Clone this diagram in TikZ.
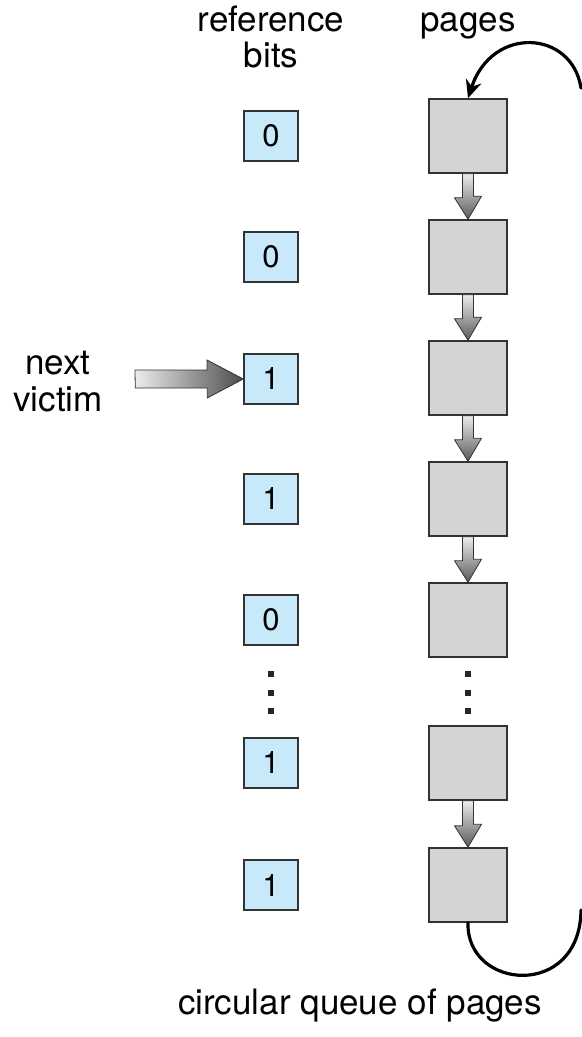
\documentclass[tikz,border=0pt]{standalone}
\usepackage{fontspec}
\setmainfont{TeX Gyre Heros}
\usetikzlibrary{arrows.meta,calc}

\definecolor{bitblue}{HTML}{C8E9F9}
\definecolor{pagegray}{HTML}{D3D4D6}
\definecolor{edgegray}{HTML}{333333}

\begin{document}
\begin{tikzpicture}[x=0.5pt,y=-0.5pt,
    label/.style={font=\fontsize{17.5}{18}\selectfont, align=center, anchor=base},
    bitbox/.style={draw=edgegray, line width=0.75pt, fill=bitblue, minimum width=27pt, minimum height=25pt, inner sep=0pt, font=\fontsize{15.5}{18}\selectfont},
    pagebox/.style={draw=edgegray, line width=0.75pt, fill=pagegray, minimum width=39pt, minimum height=37pt, inner sep=0pt},
    blockarrow/.style={draw=edgegray, line width=0.4pt, top color=gray!15, bottom color=black!65},
    loop/.style={line width=1.6pt, line cap=round}]
    \useasboundingbox (0,0) rectangle (582,1037);

    % headings
    \node[label] (refbits) at (271,68) {reference\\bits};
    \node[label] (pageshead) at (468,32) {pages};
    \node[label, font=\fontsize{17.5}{18.5}\selectfont] (victim) at (58,411) {next\\victim};
    \node[label] (queue) at (360,1014) {circular queue of pages};

    % reference bits
    \node[bitbox] (b1) at (271,136) {0};
    \node[bitbox] (b2) at (271,257) {0};
    \node[bitbox] (b3) at (271,379) {1};
    \node[bitbox] (b4) at (271,499) {1};
    \node[bitbox] (b5) at (271,620) {0};
    \node[bitbox] (b6) at (271,763) {1};
    \node[bitbox] (b7) at (271,885) {1};

    % pages
    \node[pagebox] (p1) at (468,136) {};
    \node[pagebox] (p2) at (468,257) {};
    \node[pagebox] (p3) at (468,378) {};
    \node[pagebox] (p4) at (468,499) {};
    \node[pagebox] (p5) at (468,620) {};
    \node[pagebox] (p6) at (468,763) {};
    \node[pagebox] (p7) at (468,885) {};

    % dots
    \fill[black!85] (268,671) rectangle (274,677);
    \fill[black!85] (268,690) rectangle (274,696);
    \fill[black!85] (268,708) rectangle (274,714);
    \fill[black!85] (465,671) rectangle (471,677);
    \fill[black!85] (465,690) rectangle (471,696);
    \fill[black!85] (465,708) rectangle (471,714);

    % block arrows between pages
    \shade[blockarrow] ([xshift=-2.75pt]p1.south) -- ++(0,24) -- ++(-8,0) -- (p2.north) -- ++(13.5,-23) -- ++(-8,0) -- ([xshift=2.75pt]p1.south) -- cycle;
    \shade[blockarrow] ([xshift=-2.75pt]p2.south) -- ++(0,24) -- ++(-8,0) -- (p3.north) -- ++(13.5,-23) -- ++(-8,0) -- ([xshift=2.75pt]p2.south) -- cycle;
    \shade[blockarrow] ([xshift=-2.75pt]p3.south) -- ++(0,24) -- ++(-8,0) -- (p4.north) -- ++(13.5,-23) -- ++(-8,0) -- ([xshift=2.75pt]p3.south) -- cycle;
    \shade[blockarrow] ([xshift=-2.75pt]p4.south) -- ++(0,24) -- ++(-8,0) -- (p5.north) -- ++(13.5,-23) -- ++(-8,0) -- ([xshift=2.75pt]p4.south) -- cycle;
    \shade[blockarrow] ([xshift=-2.75pt]p6.south) -- ++(0,25) -- ++(-8,0) -- (p7.north) -- ++(13.5,-23) -- ++(-8,0) -- ([xshift=2.75pt]p6.south) -- cycle;

    % next victim pointer
    \coordinate (tail) at (135,379);
    \shade[draw=edgegray, line width=0.4pt, left color=gray!15, right color=black!70]
        ([yshift=4.5pt]tail) -- ++(72,0) -- ++(0,-10) -- (b3.west) -- ++(-36,19) -- ++(0,-10) -- ++(-72,0) -- cycle;

    % circular links
    \coordinate (topend) at (581,88);
    \coordinate (botend) at (581,910);
    \draw[loop, -{Stealth[length=9pt,width=8pt]}] (topend) .. controls (572,30) and (492,25) .. (p1.north);
    \draw[loop] (p7.south) .. controls (466,990) and (580,1000) .. (botend);
\end{tikzpicture}
\end{document}
